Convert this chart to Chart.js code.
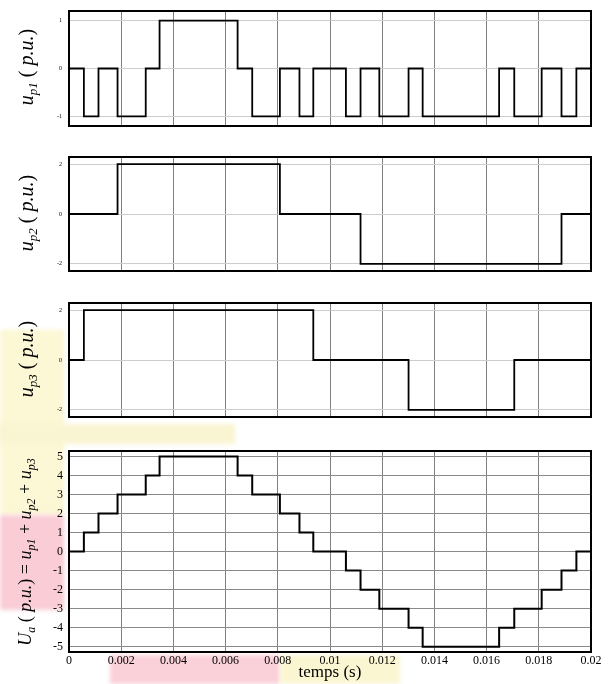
<!DOCTYPE html>
<html>
<head>
<meta charset="utf-8">
<script src="https://cdn.jsdelivr.net/npm/chart.js@4.4.1/dist/chart.umd.min.js"></script>
<style>
  html, body { margin: 0; padding: 0; background: #fff; }
  #page { position: relative; width: 613px; height: 684px; overflow: hidden;
          font-family: "Liberation Serif", "DejaVu Serif", serif; }
  .tache { position: absolute; filter: blur(2px); }
  .panneau { position: absolute; left: 0; width: 613px; }
  .titre-y { position: absolute; transform: translate(-50%, -50%) rotate(-90deg);
             white-space: nowrap; font-size: 20px; color: #000; line-height: 1; }
  .titre-y sub { font-size: 13px; vertical-align: -4px; }
  .titre-y.grand { font-size: 18px; }
  .titre-y.grand sub { font-size: 12px; }
</style>
</head>
<body>
<div id="page">
  <!-- taches de couleur du scan original -->
  <div class="tache" style="left:0;top:330px;width:64px;height:185px;background:#fcf7d4;"></div>
  <div class="tache" style="left:0;top:424px;width:235px;height:20px;background:#f9f4d2;"></div>
  <div class="tache" style="left:0;top:515px;width:64px;height:95px;background:#f9ccd6;"></div>
  <div class="tache" style="left:110px;top:655px;width:170px;height:29px;background:#fad0d9;"></div>
  <div class="tache" style="left:280px;top:655px;width:120px;height:29px;background:#fbf6d2;"></div>

  <div class="panneau" style="top:0;height:137px;"><canvas id="c1"></canvas></div>
  <div class="panneau" style="top:146px;height:136px;"><canvas id="c2"></canvas></div>
  <div class="panneau" style="top:292px;height:136px;"><canvas id="c3"></canvas></div>
  <div class="panneau" style="top:438px;height:246px;"><canvas id="c4"></canvas></div>

  <div class="titre-y" style="left:27px;top:67px;"><i>u<sub>p1</sub></i> ( <i>p.u.</i>)</div>
  <div class="titre-y" style="left:27px;top:213px;"><i>u<sub>p2</sub></i> ( <i>p.u.</i>)</div>
  <div class="titre-y" style="left:27px;top:359px;"><i>u<sub>p3</sub></i> ( <i>p.u.</i>)</div>
  <div class="titre-y grand" style="left:26px;top:552px;"><i>U<sub>a</sub></i> ( <i>p.u.</i>) = <i>u<sub>p1</sub></i> + <i>u<sub>p2</sub></i> + <i>u<sub>p3</sub></i></div>
</div>

<script>
// Instants de commutation (s)
const temps = [0, 0.00057, 0.00113, 0.00186, 0.00294, 0.00347, 0.00646, 0.00702, 0.00808,
               0.00883, 0.00936, 0.01061, 0.01117, 0.01189, 0.01301, 0.01355, 0.01648,
               0.01706, 0.01811, 0.01887, 0.01944, 0.02];

// Niveaux après chaque commutation
const up1 = [0, -1, 0, -1, 0, 1, 0, -1, 0, -1, 0, -1, 0, -1, 0, -1, 0, -1, 0, -1, 0, 0];
const up2 = [0, 0, 0, 2, 2, 2, 2, 2, 0, 0, 0, 0, -2, -2, -2, -2, -2, -2, -2, 0, 0, 0];
const up3 = [0, 2, 2, 2, 2, 2, 2, 2, 2, 2, 0, 0, 0, 0, -2, -2, -2, 0, 0, 0, 0, 0];
const ua  = [0, 1, 2, 3, 4, 5, 4, 3, 2, 1, 0, -1, -2, -3, -4, -5, -4, -3, -2, -1, 0, 0];

// Graduations
const ticksX = [0, 0.002, 0.004, 0.006, 0.008, 0.01, 0.012, 0.014, 0.016, 0.018, 0.02];
const ticksY1 = [-1, 0, 1];
const ticksY2 = [-2, 0, 2];
const ticksY4 = [-5, -4, -3, -2, -1, 0, 1, 2, 3, 4, 5];

Chart.defaults.font.family = '"Liberation Serif", "DejaVu Serif", serif';
Chart.defaults.color = '#000';

// Fond blanc dans la zone de tracé
const fondBlanc = {
    id: 'fondBlanc',
    beforeDraw(chart) {
        const a = chart.chartArea;
        const ctx = chart.ctx;
        ctx.save();
        ctx.fillStyle = '#fff';
        ctx.fillRect(a.left, a.top, a.right - a.left, a.bottom - a.top);
        ctx.restore();
    }
};

function creerPanneau(id, valeurs, ticksY, limite, options) {
    const bas = options.bas;          // hauteur de l'axe x
    const dernier = options.dernier;  // dernier panneau : étiquettes x + titre
    const cadre = { display: true, color: '#000', width: 2 };

    new Chart(document.getElementById(id), {
        type: 'line',
        data: {
            datasets: [{
                data: temps.map((t, i) => ({ x: t, y: valeurs[i] })),
                borderColor: '#000',
                borderWidth: dernier ? 2 : 1.8,
                pointRadius: 0,
                stepped: true,
                fill: false
            }]
        },
        options: {
            responsive: true,
            maintainAspectRatio: false,
            animation: false,
            events: [],
            layout: { padding: 0 },
            plugins: { legend: { display: false }, tooltip: { enabled: false } },
            scales: {
                x: {
                    type: 'linear',
                    position: 'bottom',
                    min: 0,
                    max: 0.02,
                    afterBuildTicks: s => { s.ticks = ticksX.map(v => ({ value: v })); },
                    afterFit: s => { s.height = bas; },
                    grid: { color: '#808080', lineWidth: 1, drawTicks: false },
                    border: cadre,
                    ticks: {
                        display: dernier,
                        padding: 2,
                        maxRotation: 0,
                        font: { size: 12 },
                        callback: v => String(v)
                    },
                    title: {
                        display: dernier,
                        text: 'temps (s)',
                        font: { size: 17 },
                        padding: { top: 0, bottom: 1 }
                    }
                },
                xh: {
                    type: 'linear',
                    position: 'top',
                    min: 0,
                    max: 0.02,
                    afterFit: s => { s.height = 6; },
                    grid: { display: false },
                    border: cadre,
                    ticks: { display: false }
                },
                y: {
                    type: 'linear',
                    position: 'left',
                    min: -limite,
                    max: limite,
                    afterBuildTicks: s => { s.ticks = ticksY.map(v => ({ value: v })); },
                    afterFit: s => { s.width = 69; },
                    grid: { color: dernier ? '#8a8a8a' : '#cdcdcd', lineWidth: 1, drawTicks: false },
                    border: cadre,
                    ticks: {
                        padding: dernier ? 6 : 7,
                        font: { size: dernier ? 12 : 6 },
                        callback: v => String(v)
                    }
                },
                yd: {
                    type: 'linear',
                    position: 'right',
                    min: -limite,
                    max: limite,
                    afterFit: s => { s.width = 22; },
                    grid: { display: false },
                    border: cadre,
                    ticks: { display: false }
                }
            }
        },
        plugins: [fondBlanc]
    });
}

creerPanneau('c1', up1, ticksY1, 1.21, { bas: 6, dernier: false });
creerPanneau('c2', up2, ticksY2, 2.3, { bas: 6, dernier: false });
creerPanneau('c3', up3, ticksY2, 2.3, { bas: 6, dernier: false });
creerPanneau('c4', ua, ticksY4, 5.28, { bas: 32, dernier: true });
</script>
</body>
</html>
